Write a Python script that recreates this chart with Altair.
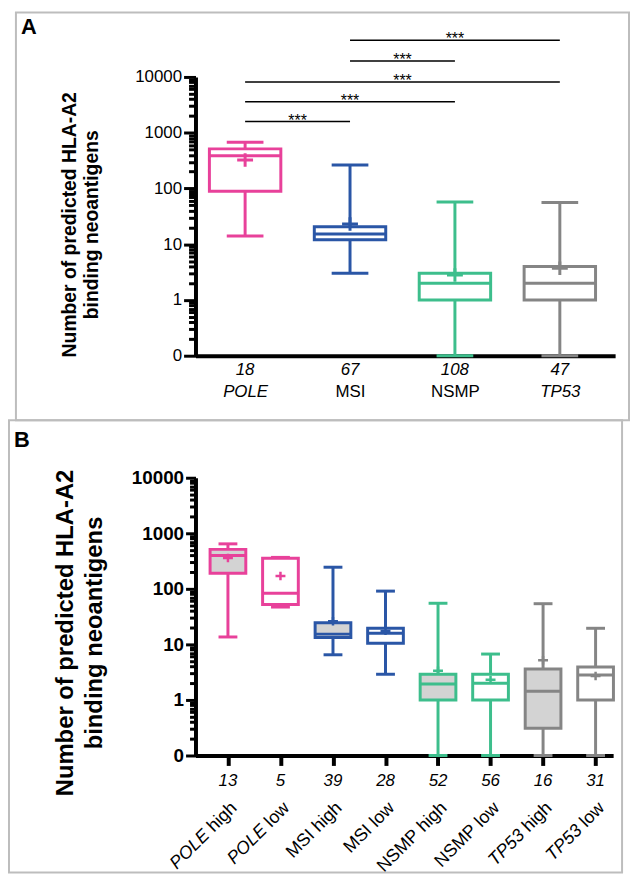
import altair as alt
import pandas as pd

FONT = "Liberation Sans"

# ---------------- data ----------------
genes = ["POLE", "MSI", "NSMP", "TP53"]
gene_colors = ["#E8419A", "#2A56A6", "#3DBE8C", "#858585"]

a_groups = ["POLE", "MSI", "NSMP", "TP53"]
a_n = [18, 67, 108, 47]
a_min = [14, 3, 0, 0]
a_q1 = [89, 12, 1, 1]
a_med = [386, 15.3, 2, 2]
a_q3 = [513, 20.6, 3, 4]
a_max = [676, 263, 57, 56]
a_mean = [324, 23, 2.8, 3.7]

b_groups = ["POLE high", "POLE low", "MSI high", "MSI low",
            "NSMP high", "NSMP low", "TP53 high", "TP53 low"]
b_gene = ["POLE", "POLE", "MSI", "MSI", "NSMP", "NSMP", "TP53", "TP53"]
b_level = ["high", "low", "high", "low", "high", "low", "high", "low"]
b_n = [13, 5, 39, 28, 52, 56, 16, 31]
b_min = [13.6, 47, 6.5, 2.9, 0, 0, 0, 0]
b_q1 = [190, 52, 13.3, 10.5, 1, 1, 0.31, 1]
b_med = [400, 83, 15.3, 15.9, 1.93, 2, 1.43, 2.8]
b_q3 = [513, 355, 24.6, 19.5, 2.9, 2.9, 3.6, 3.9]
b_max = [645, 368, 245, 91, 55, 6.7, 54, 19.5]
b_mean = [360, 170, 26, 17.5, 3.35, 2.3, 5.2, 2.7]

sig_g1 = ["MSI", "MSI", "POLE", "POLE", "POLE"]
sig_g2 = ["TP53", "NSMP", "TP53", "NSMP", "MSI"]
sig_label = ["***", "***", "***", "***", "***"]

y_title = ["Number of predicted HLA-A2", "binding neoantigens"]
major_ticks = [0.1, 1, 10, 100, 1000, 10000]
minor_mult = [2, 3, 4, 5, 6, 7, 8, 9]
italic_genes = ["POLE", "TP53"]

# ---------------- layout / style ----------------
WA, HA = 423, 281
WB, HB = 421, 280
padA, alignA = 0.5, 0.473
padB, alignB = 0.476, 0.649
sig_y = [-37, -16, 5, 25, 45]
FRAME = "#BDBDBD"

minor_vals = [round(m * d, 6) for d in major_ticks[:-1] for m in minor_mult]
LABEL_EXPR = "format(datum.value, 'd')"

yscale = alt.Scale(type="log", domain=[0.1, 10000], nice=False)
cscale = alt.Scale(domain=genes, range=gene_colors)

CHAR_W = {" ": 278, "h": 556, "i": 222, "g": 556, "l": 222, "o": 556, "w": 722}


def text_w(s, size):
    return sum(CHAR_W[c] for c in s) * size / 1000.0


def y_axis(lsize, lweight, tmaj, tsize, tlh, tpad, ty):
    return alt.Axis(
        orient="left", values=major_ticks, labelExpr=LABEL_EXPR,
        tickSize=tmaj, tickWidth=3, tickColor="black", domainColor="black", domainWidth=4,
        labelFont=FONT, labelFontSize=lsize, labelFontWeight=lweight, labelColor="black",
        labelPadding=2, labelOverlap=False, labelFlush=False, grid=False,
        title=y_title, titleFont=FONT, titleFontSize=tsize, titleFontWeight="bold",
        titleColor="black", titleLineHeight=tlh, titlePadding=tpad, titleY=ty,
    )


def minor_layer(df, tmin):
    ax = alt.Axis(orient="left", values=minor_vals, labels=False, title=None, domain=False,
                  tickSize=tmin, tickWidth=3, tickColor="black", grid=False)
    return alt.Chart(df).transform_calculate(lo_c="max(datum.lo, 0.1)").mark_point(opacity=0).encode(
        y=alt.Y("lo_c:Q", scale=yscale, axis=ax))


def box_layers(df, X, yax, box_w, cap_w, plus_size, plus_sw, fill):
    base = alt.Chart(df).transform_calculate(lo_c="max(datum.lo, 0.1)", q1_c="max(datum.q1, 0.1)")
    C = alt.Color("gene:N", scale=cscale, legend=None)

    def Y(f):
        return alt.Y(f + ":Q", scale=yscale, axis=yax)

    whisk = base.mark_rule(strokeWidth=3).encode(x=X, y=Y("lo_c"), y2="hi:Q", color=C)
    box = base.mark_bar(size=box_w, strokeWidth=3).encode(
        x=X, y=Y("q1_c"), y2="q3:Q",
        stroke=alt.Stroke("gene:N", scale=cscale, legend=None), fill=fill)
    med = base.mark_tick(size=box_w, thickness=3, opacity=1).encode(x=X, y=Y("med"), color=C)
    cap_lo = base.mark_tick(size=cap_w, thickness=3, opacity=1).encode(x=X, y=Y("lo_c"), color=C)
    cap_hi = base.mark_tick(size=cap_w, thickness=3, opacity=1).encode(x=X, y=Y("hi"), color=C)
    mean = base.mark_point(shape="M-1,0L1,0M0,-0.85L0,0.85", size=plus_size,
                           strokeWidth=plus_sw, filled=False, opacity=1).encode(
        x=X, y=Y("mean"), color=C)
    return [whisk, box, med, cap_lo, cap_hi, mean]


def frame_layer(x1, x2, y1, y2):
    return alt.Chart(pd.DataFrame({"k": [0]})).mark_rect(
        fillOpacity=0, stroke=FRAME, strokeWidth=2).encode(
        x=alt.value(x1), x2=alt.value(x2), y=alt.value(y1), y2=alt.value(y2))


def letter_layer(t, x, y):
    return alt.Chart(pd.DataFrame({"t": [t]})).mark_text(
        font=FONT, fontSize=22, fontWeight="bold", color="black",
        align="center", baseline="middle").encode(
        text="t:N", x=alt.value(x), y=alt.value(y))


# ---------------- panel A ----------------
df_a = pd.DataFrame(dict(grp=a_groups, gene=a_groups, n=a_n, lo=a_min, q1=a_q1,
                         med=a_med, q3=a_q3, hi=a_max, mean=a_mean))
xscaleA = alt.Scale(type="point", domain=a_groups, padding=padA, align=alignA)
xaxisA = alt.Axis(title=None, ticks=False, domainColor="black", domainWidth=4,
                  labelFont=FONT, labelFontSize=17, labelColor="black", labelAngle=0,
                  labelPadding=28, grid=False,
                  labelFontStyle={"condition": {"test": "datum.value == 'POLE' || datum.value == 'TP53'",
                                                "value": "italic"}, "value": "normal"})
XA = alt.X("grp:N", scale=xscaleA, axis=xaxisA)
yaxA = y_axis(17, "normal", 12, 19.5, 23, 33, HA / 2 + 8)

layersA = [frame_layer(-181, 437, -65, 346), letter_layer("A", -168, -50)]
layersA += box_layers(df_a, XA, yaxA, 72, 37, 256, 3, alt.value("white"))
layersA.append(alt.Chart(df_a).mark_text(font=FONT, fontSize=17, fontStyle="italic",
                                         color="black", baseline="middle").encode(
    x=XA, y=alt.value(HA + 14), text="n:Q"))

stepA = WA / (len(a_groups) - 1 + 2 * padA)
for i in range(len(sig_g1)):
    dfs = pd.DataFrame({"g1": [sig_g1[i]], "g2": [sig_g2[i]], "lab": [sig_label[i]]})
    span = a_groups.index(sig_g2[i]) - a_groups.index(sig_g1[i])
    Xs = alt.X("g1:N", scale=xscaleA, axis=xaxisA)
    layersA.append(alt.Chart(dfs).mark_rule(strokeWidth=1.5, color="black").encode(
        x=Xs, x2=alt.X2("g2"), y=alt.value(sig_y[i])))
    layersA.append(alt.Chart(dfs).mark_text(font=FONT, fontSize=16, color="black",
                                            baseline="alphabetic", dx=span * stepA / 2).encode(
        x=Xs, y=alt.value(sig_y[i] + 4), text="lab:N"))

chartA = alt.layer(alt.layer(*layersA), minor_layer(df_a, 7)).resolve_scale(y="independent").properties(
    width=WA, height=HA)

# ---------------- panel B ----------------
df_b = pd.DataFrame(dict(grp=b_groups, gene=b_gene, level=b_level, n=b_n, lo=b_min, q1=b_q1,
                         med=b_med, q3=b_q3, hi=b_max, mean=b_mean))
xscaleB = alt.Scale(type="point", domain=b_groups, padding=padB, align=alignB)
xaxisB = alt.Axis(title=None, labels=False, ticks=True, tickSize=10, tickWidth=4,
                  tickColor="black", domainColor="black", domainWidth=4, grid=False)
XB = alt.X("grp:N", scale=xscaleB, axis=xaxisB)
yaxB = y_axis(19, "bold", 10, 24, 29, 25, HB / 2 + 16)
fillB = alt.Fill("level:N", scale=alt.Scale(domain=["high", "low"], range=["#D3D3D3", "white"]),
                 legend=None)

layersB = [frame_layer(-188, 430, -58, 398), letter_layer("B", -175, -38)]
layersB += box_layers(df_b, XB, yaxB, 36, 19, 100, 2.5, fillB)
layersB.append(alt.Chart(df_b).mark_text(font=FONT, fontSize=17, fontStyle="italic",
                                         color="black", baseline="middle").encode(
    x=XB, y=alt.value(HB + 26), text="n:Q"))

LBL = 18
LBL_Y = HB + 44
layersB.append(alt.Chart(df_b).mark_text(font=FONT, fontSize=LBL, color="black", angle=315,
                                         align="right", baseline="top").encode(
    x=XB, y=alt.value(LBL_Y), text="level:N"))
for lev in ["high", "low"]:
    for ital in [True, False]:
        test = "indexof(%s, datum.gene) %s 0" % (str(italic_genes), ">=" if ital else "<")
        layersB.append(
            alt.Chart(df_b).transform_filter("datum.level == '%s'" % lev).transform_filter(test)
            .mark_text(font=FONT, fontSize=LBL, color="black", angle=315, align="right",
                       baseline="top", fontStyle="italic" if ital else "normal",
                       dx=-text_w(" " + lev, LBL))
            .encode(x=XB, y=alt.value(LBL_Y), text="gene:N"))

chartB = alt.layer(alt.layer(*layersB), minor_layer(df_b, 6)).resolve_scale(y="independent").properties(
    width=WB, height=HB)

chart = alt.concat(chartA, chartB, columns=1, align="none", spacing=-2).properties(
    padding=0).configure_view(stroke=None)
chart.save("out.html", embed_options={"renderer": "svg", "actions": False})
